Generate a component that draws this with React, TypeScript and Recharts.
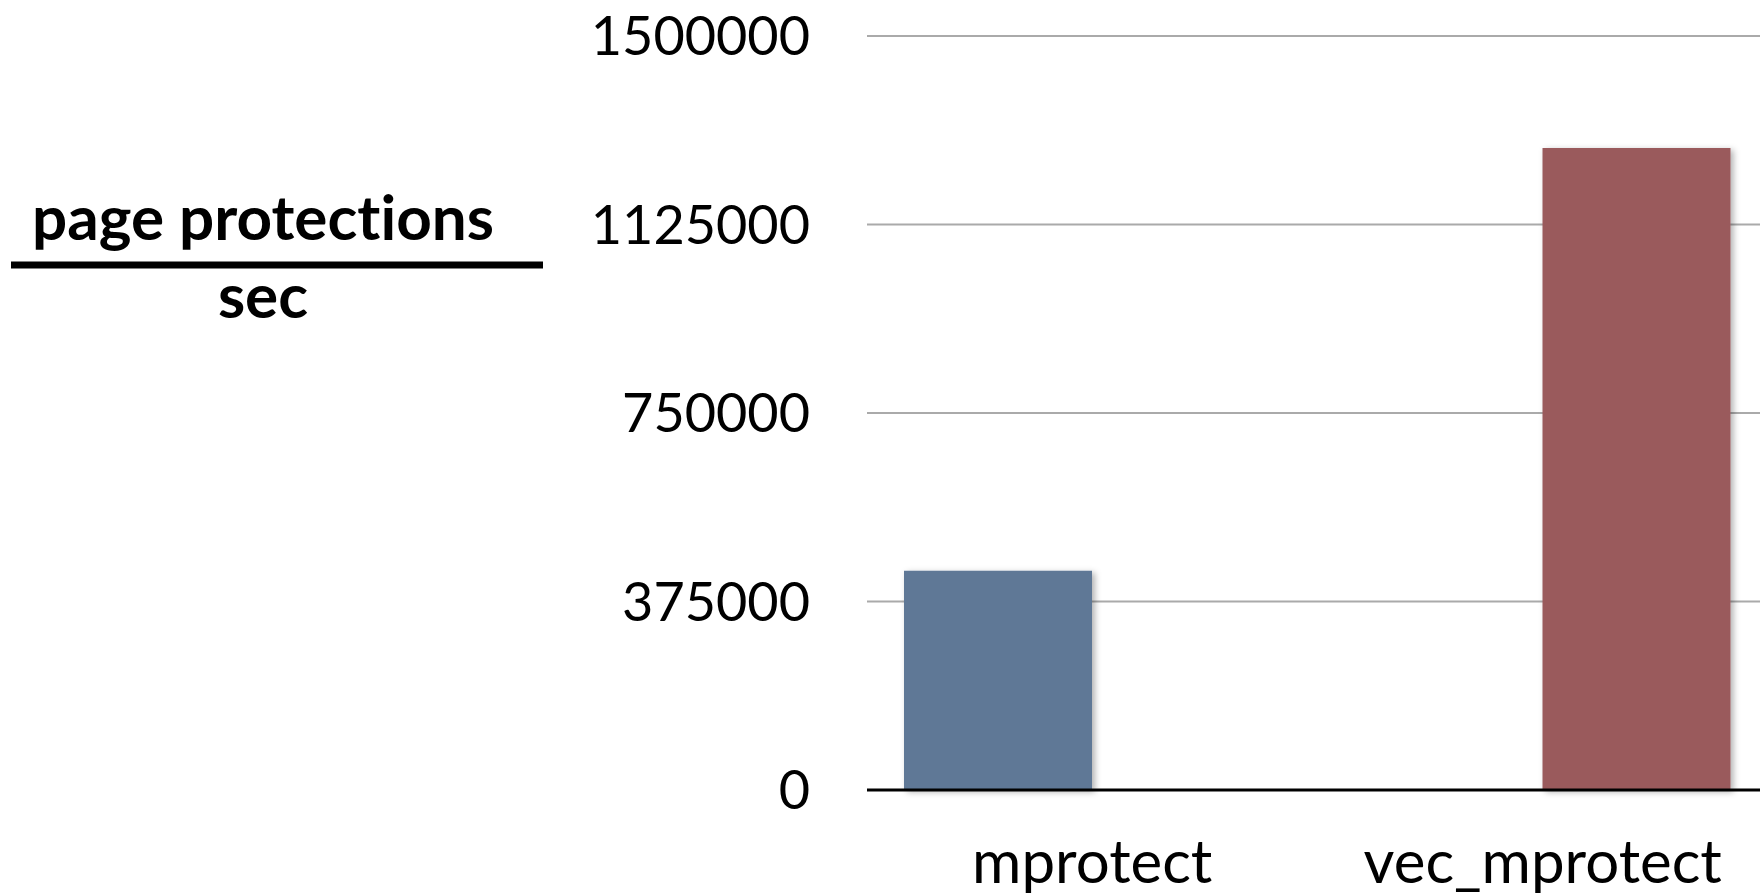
import React from 'react';
import { BarChart, Bar, XAxis, YAxis, CartesianGrid, Label } from 'recharts';

const categories = ['mprotect', 'vec_mprotect'];
const mprotectValues = [436000, null];
const vecMprotectValues = [null, 1277000];
const yTicks = [0, 375000, 750000, 1125000, 1500000];
const yLabelTop = 'page protections';
const yLabelBottom = 'sec';

const data = categories.map((c, i) => ({
  name: c,
  mprotect: mprotectValues[i],
  vec_mprotect: vecMprotectValues[i],
}));

const FONT = 'Lato, "Open Sans", sans-serif';

const FractionLabel = (props: any) => {
  const vb = props.viewBox || { x: 0, y: 0 };
  const cx = vb.x + 263;
  return (
    <g style={{ fontVariantLigatures: 'none' }}>
      <text x={cx} y={240} textAnchor="middle" fontFamily={FONT} fontWeight={700} fontSize={62} fill="#000" style={{ fontVariantLigatures: 'none' }}>
        {yLabelTop}
      </text>
      <line x1={vb.x + 11} x2={vb.x + 543} y1={265} y2={265} stroke="#000" strokeWidth={7} />
      <text x={cx} y={318} textAnchor="middle" fontFamily={FONT} fontWeight={700} fontSize={62} fill="#000">
        {yLabelBottom}
      </text>
    </g>
  );
};

export default function App() {
  return (
    <div style={{ position: 'absolute', left: 0, top: 0, width: 1760, height: 896, overflow: 'hidden', background: '#fff' }}>
      <BarChart
        width={1768}
        height={896}
        data={data}
        margin={{ top: 36, right: 0, bottom: 0, left: 0 }}
        barCategoryGap={37}
        barGap={0}
      >
        <defs>
          <filter id="barShadow" x="-10%" y="-10%" width="130%" height="130%">
            <feDropShadow dx="3" dy="2" stdDeviation="3" floodColor="#000" floodOpacity="0.3" />
          </filter>
        </defs>
        <CartesianGrid horizontal vertical={false} stroke="#aaaaaa" strokeWidth={2} />
        <XAxis
          dataKey="name"
          height={106}
          tickLine={false}
          tickSize={0}
          tickMargin={50}
          axisLine={{ stroke: '#000', strokeWidth: 3 }}
          tick={{ fontFamily: FONT, fontSize: 60, fill: '#000' }}
        />
        <YAxis
          width={867}
          domain={[0, 1500000]}
          ticks={yTicks}
          interval={0}
          axisLine={false}
          tickLine={false}
          tickSize={0}
          tickMargin={57}
          tick={{ fontFamily: FONT, fontSize: 54, fill: '#000' }}
          tickFormatter={(v: number) => String(v)}
        >
          <Label content={<FractionLabel />} />
        </YAxis>
        <Bar dataKey="mprotect" fill="#5f7896" isAnimationActive={false} style={{ filter: 'url(#barShadow)' }} />
        <Bar dataKey="vec_mprotect" fill="#9a5a5c" isAnimationActive={false} style={{ filter: 'url(#barShadow)' }} />
      </BarChart>
    </div>
  );
}
